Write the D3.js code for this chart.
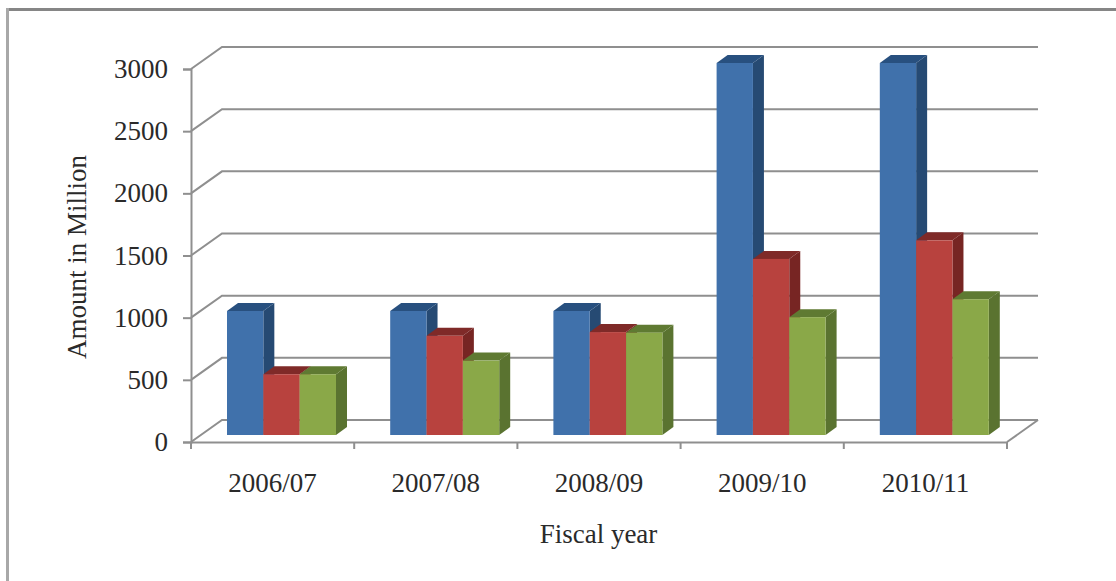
<!DOCTYPE html>
<html>
<head>
<meta charset="utf-8">
<script src="https://cdn.jsdelivr.net/npm/d3@7"></script>
<style>
  html, body { margin: 0; padding: 0; background: #fff; }
  svg { display: block; }
  text { font-family: "Liberation Serif", serif; fill: #2a2a2a; }
</style>
</head>
<body>
<svg id="chart" width="1116" height="581"></svg>
<script>
const years = ["2006/07", "2007/08", "2008/09", "2009/10", "2010/11"];
const seriesA = [1000, 1000, 1000, 3000, 3000];
const seriesB = [490, 800, 830, 1420, 1570];
const seriesC = [490, 600, 825, 950, 1095];
const yTicks = [0, 500, 1000, 1500, 2000, 2500, 3000];

const faces = [
  { front: "#4071ab", side: "#264a73", top: "#28507f" },
  { front: "#b8423e", side: "#772523", top: "#7f2a28" },
  { front: "#8aa848", side: "#5a7330", top: "#5f7a32" }
];
const rows = [seriesA, seriesB, seriesC];

const svg = d3.select("#chart");

// Frame edges of the chart area: only the top and left are inside the page
svg.append("line")
  .attr("x1", 6).attr("x2", 1116).attr("y1", 9.5).attr("y2", 9.5)
  .attr("stroke", "#868686").attr("stroke-width", 3);
svg.append("line")
  .attr("x1", 7.5).attr("x2", 7.5).attr("y1", 8).attr("y2", 581)
  .attr("stroke", "#a8a8a8").attr("stroke-width", 3);

const axisX0 = 191, axisX1 = 1007, axisY0 = 442, axisY1 = 69;
const wallDx = 31, wallDy = -22;   // oblique offset from the front axis to the back wall
const barDx = 11, barDy = -8;      // oblique depth of each bar

const x = d3.scaleBand().domain(years).range([axisX0, axisX1]);
const inner = d3.scaleBand().domain(d3.range(3)).range([36, 145]);
const y = d3.scaleLinear().domain([0, 3000]).range([axisY0, axisY1]);
// Bars stand forward of the back wall, slightly above the front axis line
const barY = d3.scaleLinear().domain([0, 3000]).range([435, 63]);

// Gridlines: slanted segment on the side wall, then straight along the back wall
const gridPath = d3.line();
svg.append("g").selectAll("path").data(yTicks).join("path")
  .attr("d", t => gridPath([
    [axisX0, y(t)],
    [axisX0 + wallDx, y(t) + wallDy],
    [axisX1 + wallDx, y(t) + wallDy]
  ]))
  .attr("fill", "none").attr("stroke", "#8f8f8f").attr("stroke-width", 2);

// Right edge of the floor
svg.append("line")
  .attr("x1", axisX1).attr("y1", axisY0)
  .attr("x2", axisX1 + wallDx).attr("y2", axisY0 + wallDy)
  .attr("stroke", "#8f8f8f").attr("stroke-width", 2);

// Axes
const yAxis = d3.axisLeft(y).tickValues(yTicks).tickFormat(d3.format("d")).tickSize(8).tickPadding(15);
const gy = svg.append("g").attr("transform", `translate(${axisX0},0)`).call(yAxis);
const xAxis = d3.axisBottom(x).tickSize(0).tickPadding(31);
const gx = svg.append("g").attr("transform", `translate(0,${axisY0})`).call(xAxis);

// Tick marks on the category axis fall on band edges
gx.selectAll(".edge").data(d3.range(years.length + 1)).join("line")
  .attr("class", "edge")
  .attr("x1", i => axisX0 + i * x.step()).attr("x2", i => axisX0 + i * x.step())
  .attr("y1", 0).attr("y2", 7);

for (const g of [gx, gy]) {
  g.selectAll("path.domain, line").attr("stroke", "#8f8f8f").attr("stroke-width", 2);
  g.selectAll("text").style("font-size", "27px").attr("font-family", null).attr("fill", "#2a2a2a");
}
gx.attr("font-family", null);
gy.attr("font-family", null);

// Bars: series left to right inside each fiscal-year group
const bars = svg.append("g");
years.forEach((yr, i) => {
  rows.forEach((row, s) => {
    const v = row[i];
    const x0 = x(yr) + inner(s), w = inner.bandwidth();
    const top = barY(v), base = barY(0);
    const g = bars.append("g");
    g.append("path").attr("fill", faces[s].side).attr("d", d3.line()([
      [x0 + w, top], [x0 + w + barDx, top + barDy],
      [x0 + w + barDx, base + barDy], [x0 + w, base]
    ]));
    g.append("path").attr("fill", faces[s].top).attr("d", d3.line()([
      [x0, top], [x0 + barDx, top + barDy],
      [x0 + w + barDx, top + barDy], [x0 + w, top]
    ]));
    g.append("rect").attr("x", x0).attr("y", top)
      .attr("width", w).attr("height", base - top).attr("fill", faces[s].front);
  });
});

// Axis titles
svg.append("text")
  .attr("transform", "translate(86,257) rotate(-90)")
  .attr("text-anchor", "middle").style("font-size", "27px")
  .text("Amount in Million");
svg.append("text")
  .attr("x", 598.5).attr("y", 543)
  .attr("text-anchor", "middle").style("font-size", "27px")
  .text("Fiscal year");
</script>
</body>
</html>
